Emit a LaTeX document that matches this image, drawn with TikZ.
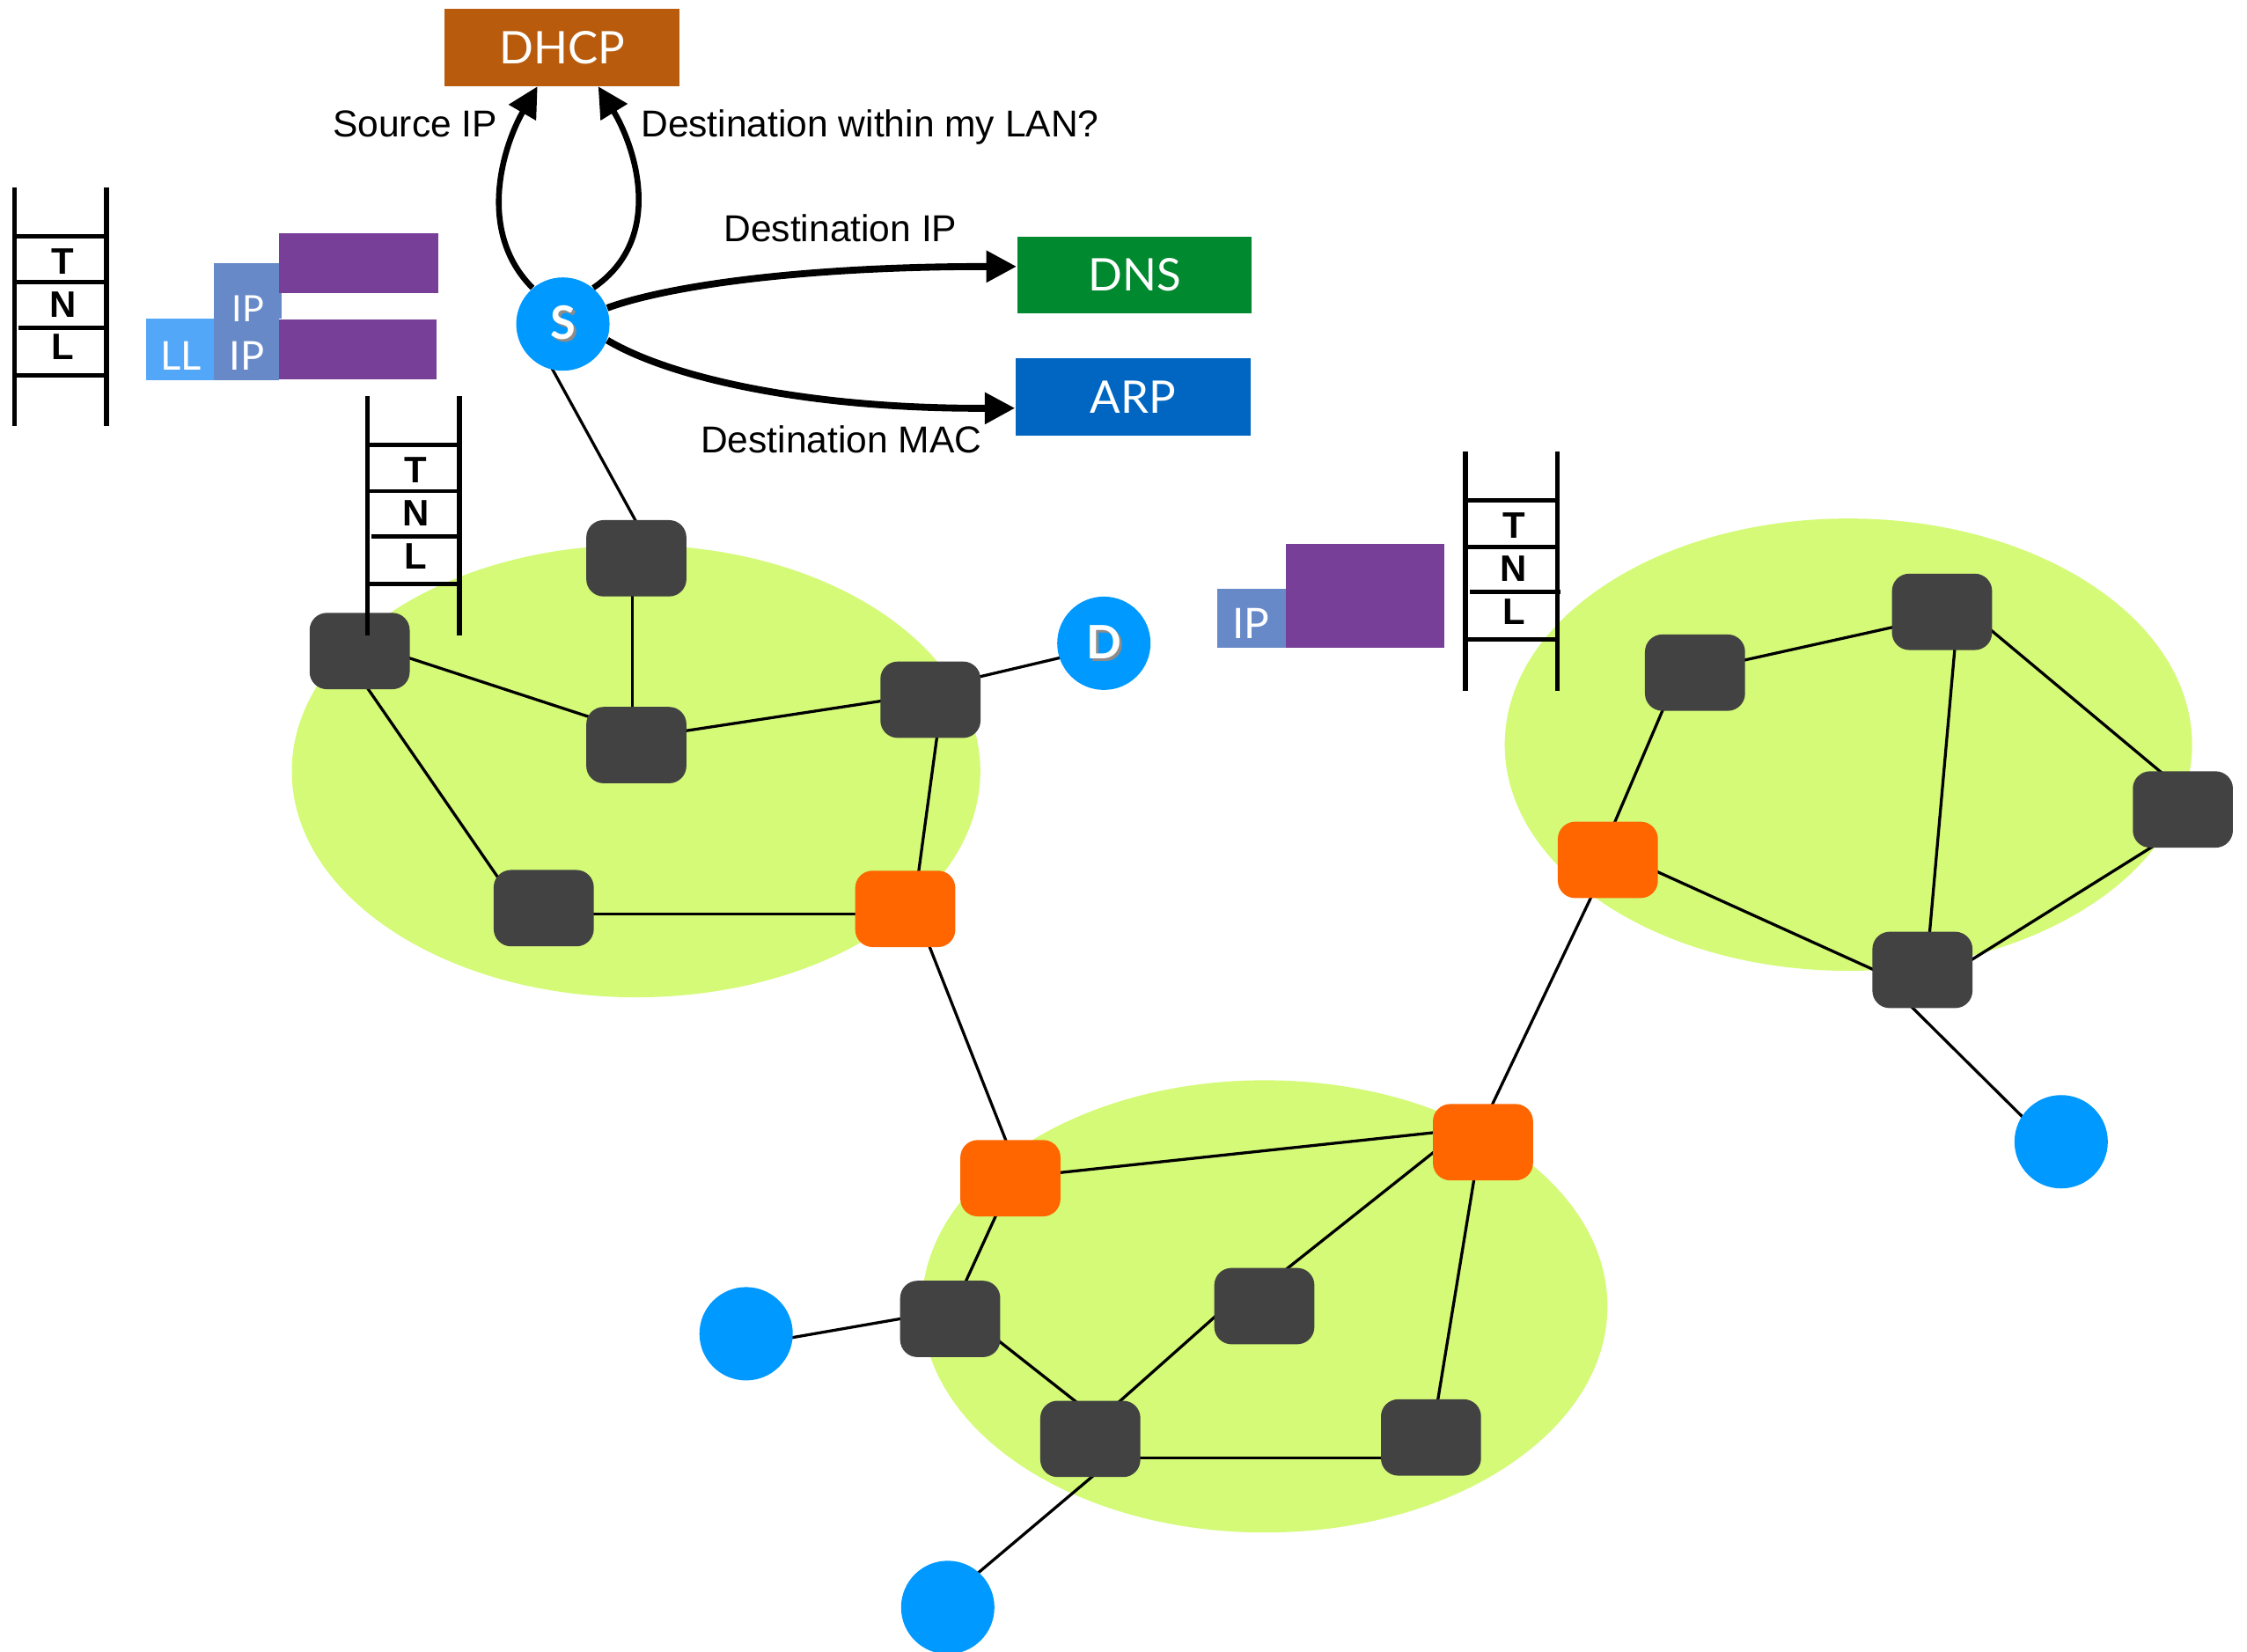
\documentclass[tikz,border=0pt]{standalone}
\usepackage{fontspec}
\setmainfont{Liberation Sans}
\newfontfamily\gill{Lato}
\usetikzlibrary{arrows.meta}
\pgfdeclarelayer{bg}
\pgfsetlayers{bg,main}
\definecolor{nodegray}{HTML}{424242}
\definecolor{gworange}{HTML}{FF6600}
\definecolor{hostblue}{HTML}{0099FF}
\definecolor{blobgreen}{HTML}{D4FA78}
\definecolor{dhcpc}{HTML}{B85B0C}
\definecolor{dnsc}{HTML}{00892E}
\definecolor{arpc}{HTML}{0066C2}
\definecolor{pktpurple}{HTML}{773F98}
\definecolor{pktip}{HTML}{6789C8}
\definecolor{pktll}{HTML}{53A7F8}
\newcommand\shadowed[1]{\rlap{\kern1pt\raisebox{-1pt}{\textcolor{black!45}{#1}}}#1}
\newcommand\netlink[4]{\draw[link] ([shift={#2}]#1.center) -- ([shift={#4}]#3.center);}
\newcommand\netladder[3]{%
  \begin{scope}[shift={(#1,#2)}]
    \draw[rail] (0,0) -- (0,166) (64,0) -- (64,166);
    \draw[rung] (1.5,34) -- (65,34) (1.5,66) -- (65,66) (3,97.5) -- (66,97.5) (1.5,130.5) -- (65,130.5);
    \node[ladtxt] (#3T) at (33.5,51.5) {T};
    \node[ladtxt] (#3N) at (33.5,81.3) {N};
    \node[ladtxt] (#3L) at (33.5,111) {L};
  \end{scope}}
\begin{document}
\begin{tikzpicture}[x=0.5pt,y=-0.5pt,
  router/.style={rectangle, rounded corners=6pt, fill=nodegray, minimum width=34.75pt, minimum height=26.5pt, inner sep=0pt},
  gw/.style={router, fill=gworange},
  host/.style={circle, fill=hostblue, minimum size=32.4pt, inner sep=0pt, text=white, font=\gill\bfseries\fontsize{16}{18}\selectfont},
  svc/.style={rectangle, minimum width=81.5pt, minimum height=26.75pt, inner sep=0pt, text=white, font=\gill\fontsize{15.6}{17}\selectfont},
  link/.style={line width=1pt},
  lbl/.style={anchor=base, inner sep=0pt, font=\fontsize{13}{15}\selectfont},
  query/.style={line width=2pt, -{Triangle[length=10.5pt,width=10.5pt]}},
  bigquery/.style={query, line width=2.4pt},
  ladtxt/.style={inner sep=0pt, font=\bfseries\fontsize{12.8}{14}\selectfont},
  rail/.style={line width=1.6pt},
  rung/.style={line width=1.45pt},
  pkttxt/.style={inner sep=0pt, text=white},
  blob/.style={fill=blobgreen}]
\useasboundingbox (0,0) rectangle (1560.05,1146.9);

% packets
\fill[pktll] (101.5,221.5) rectangle (148.4,264);
\fill[pktip] (148.4,182.6) rectangle (195.3,221.5);
\fill[pktip] (148.4,221.5) rectangle (193.8,264);
\fill[pktpurple] (194,162) rectangle (304.5,203.5);
\fill[pktpurple] (193.4,222) rectangle (303.3,263.5);
\node[pkttxt, font=\gill\fontsize{12.6}{14}\selectfont] (ipUp) at (172.4,214.4) {IP};
\node[pkttxt, font=\gill\fontsize{13.8}{15}\selectfont] (ipLow) at (171.3,247.2) {IP};
\node[pkttxt, font=\gill\fontsize{13.8}{15}\selectfont] (llLow) at (125.5,247.2) {LL};
\fill[pktip] (845,408.8) rectangle (892.6,450);
\fill[pktpurple] (892.6,377.4) rectangle (1002.6,450);
\node[pkttxt, font=\gill\fontsize{14.6}{16}\selectfont] (ipRight) at (868.7,432.8) {IP};

% services
\node[svc, fill=dhcpc] (DHCP) at (390.15,32.85) {DHCP};
\node[svc, fill=dnsc] (DNS) at (787.7,191.05) {DNS};
\node[svc, fill=arpc] (ARP) at (786.6,275.55) {ARP};

% routers
\node[router] (n1) at (441.8,387.6) {};
\node[router] (n2) at (249.7,452) {};
\node[router] (n3) at (441.8,517.3) {};
\node[router] (n4) at (646,485.8) {};
\node[router] (n5) at (377.5,630.5) {};
\node[gw] (o1) at (628.5,631) {};
\node[router] (m1) at (1176.8,467) {};
\node[router] (m2) at (1348.3,424.8) {};
\node[router] (m3) at (1515.5,562) {};
\node[router] (m4) at (1334.7,673.4) {};
\node[gw] (o2) at (1116.3,597) {};
\node[gw] (o3) at (701.5,818) {};
\node[gw] (o4) at (1029.6,793) {};
\node[router] (k1) at (659.7,915.7) {};
\node[router] (k2) at (877.8,906.8) {};
\node[router] (k3) at (757,999) {};
\node[router] (k4) at (993.5,998) {};

% hosts
\node[host] (S) at (390.8,225) {\shadowed{S}};
\node[host] (D) at (766.4,446.6) {\shadowed{D}};
\node[host] (h1) at (518,926) {};
\node[host] (h2) at (658,1116) {};
\node[host] (h3) at (1431,792.7) {};

\begin{pgfonlayer}{bg}
% LAN areas
\fill[blob] (441.6,535.4) ellipse [x radius=119.5pt, y radius=78.5pt];
\fill[blob] (1283.3,517) ellipse [x radius=119.3pt, y radius=78.5pt];
\fill[blob] (878,907) ellipse [x radius=119pt, y radius=78.5pt];
% links
\netlink{S}{(-13.5,20)}{n1}{(6.9,-12.6)}
\netlink{n1}{(-2.7,0)}{n3}{(-2.7,0)}
\netlink{n2}{(0.3,-6.3)}{n3}{(0,-8.9)}
\netlink{n3}{(0,-4.7)}{n4}{(0,-4.3)}
\netlink{n4}{(0,-7.9)}{D}{(0,2.9)}
\netlink{n4}{(8,0)}{o1}{(5.8,0)}
\netlink{n2}{(-12.3,0)}{n5}{(-17.1,0)}
\netlink{n5}{(0,4)}{o1}{(0,3.5)}
\netlink{o1}{(6.5,0)}{o3}{(7.2,0)}
\netlink{o3}{(0,-0.2)}{o4}{(0,-10.3)}
\netlink{o3}{(1.8,0)}{k1}{(-1.1,0)}
\netlink{o4}{(-15.4,-8)}{k2}{(-17,0)}
\netlink{o4}{(-2,0)}{k4}{(0.5,0)}
\netlink{k1}{(14.3,0)}{k3}{(11.4,-9)}
\netlink{k2}{(-12.7,-11.8)}{k3}{(-9,0)}
\netlink{k3}{(0,13.3)}{k4}{(0,14.3)}
\netlink{k1}{(0,-6.1)}{h1}{(0,8.2)}
\netlink{k3}{(19.3,11)}{h2}{(-7.3,0)}
\netlink{o4}{(-6,0)}{o2}{(0.7,0)}
\netlink{o2}{(-6.4,0)}{m1}{(-11.3,0)}
\netlink{m1}{(0,-1.1)}{m2}{(0,3.1)}
\netlink{m2}{(11.1,0)}{m4}{(2.7,0)}
\netlink{m2}{(0,-15.7)}{m3}{(0,-13.2)}
\netlink{m3}{(0,12.6)}{m4}{(0,14.3)}
\netlink{o2}{(0,-7.3)}{m4}{(0,15.2)}
\netlink{m4}{(-21.7,11.6)}{h3}{(-9.4,0)}
\end{pgfonlayer}

% protocol stacks
\netladder{10}{130}{la}
\netladder{255}{275}{lb}
\netladder{1017.4}{313.6}{lc}

% queries
\draw[query] (S.130) .. controls (330,160) and (350,100) .. ([xshift=-8.5pt]DHCP.south);
\draw[query] (S.50) .. controls (463,165) and (440,100) .. ([xshift=12.6pt]DHCP.south);
\draw[bigquery] (S.20) .. controls (465,198) and (560,185) .. ([yshift=3pt]DNS.west);
\draw[bigquery] (S.-20) .. controls (465,262) and (560,284) .. ([yshift=-3.9pt]ARP.west);

% labels
\node[lbl] (lsrc) at (288.2,95) {Source IP};
\node[lbl] (llan) at (604,95) {Destination within my LAN?};
\node[lbl] (ldip) at (583.5,167.6) {Destination IP};
\node[lbl] (ldmac) at (584,314.3) {Destination MAC};
\end{tikzpicture}
\end{document}
